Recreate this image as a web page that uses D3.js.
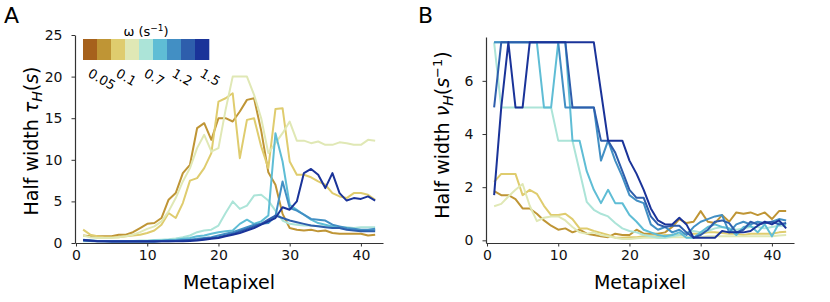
<!DOCTYPE html>
<html>
<head>
<meta charset="utf-8">
<script src="https://cdn.jsdelivr.net/npm/d3@7"></script>
<style>
  body { margin: 0; background: #fff; }
  svg { font-family: "DejaVu Sans", sans-serif; }
</style>
</head>
<body>
<svg id="chart" width="830" height="302"></svg>
<script>
// Half width vs metapixel, one line per stimulus frequency
const metapixel = [1,2,3,4,5,6,7,8,9,10,11,12,13,14,15,16,17,18,19,20,21,22,23,24,25,26,27,28,29,30,31,32,33,34,35,36,37,38,39,40,41,42];

const palette = ['#a6611c', '#bf9535', '#dfcc6e', '#e0e8b5', '#ace4d8', '#5fbdd5', '#428fc4', '#2e5eac', '#1a3399'];
const omegaLabels = ['0.05', '0.1', '0.7', '1.2', '1.5'];
const omegaLabelCells = [0, 2, 4, 6, 8];

// panel A: tau_H (s)
const tauC2 = [0.9,0.8,0.8,0.8,0.8,1.0,1.0,1.3,1.8,2.3,2.4,3.0,5.2,6.0,8.4,9.4,13.8,14.4,12.4,15.0,15.0,14.6,15.8,17.2,17.4,13.5,8.5,7.0,3.5,1.8,1.6,1.5,1.6,1.4,1.5,1.2,1.1,1.1,1.1,1.1,0.9,1.0];
const tauC3 = [1.6,1.0,0.8,0.7,0.7,0.7,0.8,0.9,1.0,1.2,1.5,2.2,3.6,3.0,4.8,7.5,7.8,9.0,10.8,17.0,17.4,18.0,10.2,14.8,15.0,11.6,9.0,16.1,16.2,9.8,8.2,8.2,7.9,7.4,7.0,6.0,5.6,5.4,6.0,6.0,5.8,5.2];
const tauC4 = [0.9,0.7,0.6,0.6,0.6,0.7,0.8,1.0,1.3,1.7,2.0,2.6,3.8,5.4,7.4,9.0,11.4,13.0,11.0,11.4,16.0,20.0,20.0,20.0,17.8,15.0,10.8,12.0,13.2,14.6,12.3,12.3,12.0,12.2,11.8,11.8,12.1,12.0,11.8,11.8,12.4,12.3];
const tauC5 = [0.2,0.2,0.2,0.2,0.2,0.2,0.2,0.25,0.3,0.3,0.35,0.4,0.45,0.55,0.7,0.9,1.3,1.5,1.6,2.1,3.6,5.0,4.1,4.5,5.7,5.8,5.1,3.9,2.7,2.3,2.2,2.1,2.1,2.0,2.0,1.9,1.9,1.9,1.8,1.9,1.9,1.9];
const tauC6 = [0.3,0.3,0.25,0.25,0.25,0.25,0.25,0.25,0.25,0.25,0.3,0.3,0.35,0.4,0.5,0.6,0.8,0.9,1.1,1.3,1.4,1.5,2.3,2.8,2.3,2.6,3.3,13.2,9.8,4.6,4.0,3.4,2.8,2.4,2.2,2.0,1.8,1.7,1.6,1.5,1.5,1.6];
const tauC7 = [0.4,0.3,0.25,0.2,0.2,0.2,0.2,0.2,0.2,0.2,0.2,0.25,0.3,0.3,0.35,0.4,0.5,0.6,0.7,0.9,1.1,1.3,1.6,1.9,2.2,2.3,2.4,3.2,7.4,4.2,3.9,3.4,2.9,2.8,2.7,2.2,2.0,1.8,1.7,1.6,1.6,1.7];
const tauC8 = [0.3,0.25,0.2,0.2,0.15,0.15,0.15,0.15,0.15,0.15,0.15,0.2,0.2,0.25,0.3,0.35,0.4,0.5,0.6,0.7,0.9,1.1,1.4,1.7,2.0,2.3,2.8,3.3,3.0,2.7,2.5,2.3,2.1,2.0,1.9,1.8,1.8,1.6,1.5,1.4,1.4,1.4];
const tauC9 = [0.35,0.3,0.2,0.2,0.2,0.2,0.2,0.2,0.2,0.2,0.2,0.2,0.2,0.2,0.2,0.25,0.3,0.4,0.5,0.6,0.8,1.0,1.2,1.5,1.8,2.2,2.6,3.0,4.3,4.0,5.0,8.4,8.9,8.2,6.6,8.4,6.0,5.1,5.4,5.3,5.6,5.1];

// panel B: nu_H (1/s)
const nuC2 = [1.85,1.7,1.7,1.55,1.2,1.2,1.0,0.75,0.55,0.4,0.45,0.3,0.4,0.25,0.2,0.15,0.12,0.25,0.2,0.2,0.4,0.25,0.25,0.25,0.3,0.5,0.8,0.65,0.7,1.1,0.7,0.65,0.95,0.7,1.05,1.0,1.05,0.95,1.05,0.8,1.1,1.1];
const nuC3 = [2.2,2.5,2.5,2.5,1.7,1.9,1.75,1.3,0.95,0.95,1.0,0.8,0.45,0.45,0.35,0.28,0.2,0.1,0.1,0.12,0.12,0.15,0.15,0.15,0.2,0.2,0.2,0.25,0.25,0.25,0.3,0.3,0.28,0.25,0.25,0.2,0.25,0.25,0.25,0.25,0.3,0.32];
const nuC4 = [1.28,1.37,1.65,1.9,2.12,1.3,0.72,0.85,0.9,0.9,0.75,0.5,0.3,0.25,0.3,0.2,0.15,0.1,0.05,0.05,0.08,0.1,0.1,0.1,0.1,0.12,0.12,0.12,0.12,0.12,0.15,0.15,0.15,0.15,0.15,0.15,0.15,0.15,0.15,0.15,0.18,0.2];
const nuC5 = [7.45,5.0,5.0,5.0,5.0,5.0,5.0,5.0,5.0,3.75,3.75,3.75,2.6,1.45,1.15,1.0,0.9,0.65,0.45,0.35,0.3,0.2,0.15,0.1,0.1,0.15,0.2,0.3,0.35,0.3,0.35,0.45,0.5,0.45,0.4,0.45,0.5,0.5,0.45,0.5,0.55,0.55];
const nuC6 = [7.45,7.45,7.45,7.45,7.45,7.45,7.45,5.0,5.0,7.45,7.45,3.75,3.75,2.6,1.9,1.4,1.9,1.4,1.4,0.95,0.7,0.4,0.3,0.2,0.15,0.2,0.3,0.1,0.1,0.3,0.5,0.6,0.5,0.45,0.2,0.5,0.55,0.3,0.6,0.15,0.65,0.6];
const nuC7 = [7.45,7.45,7.45,7.45,7.45,7.45,7.45,7.45,7.45,7.45,5.0,5.0,5.0,5.0,5.0,3.0,3.75,3.0,2.4,1.7,1.5,1.4,0.6,0.4,0.5,0.3,0.4,0.2,0.5,0.7,0.8,0.9,0.95,0.3,0.6,0.7,0.6,0.7,0.65,0.7,0.8,0.75];
const nuC8 = [5.0,7.45,7.45,7.45,7.45,7.45,7.45,7.45,7.45,7.45,7.45,5.0,5.0,5.0,5.0,3.75,3.75,3.3,2.6,1.9,1.6,1.6,0.9,0.6,0.5,0.55,0.55,0.3,0.1,0.2,0.4,0.7,0.75,0.65,0.3,0.4,0.7,0.6,0.65,0.7,0.6,0.65];
const nuC9 = [1.7,5.0,7.45,5.0,5.0,7.45,7.45,7.45,7.45,7.45,7.45,7.45,7.45,7.45,7.45,5.6,3.75,3.75,3.75,3.0,2.5,1.9,1.2,0.75,0.6,0.6,0.85,0.6,0.1,0.1,0.1,0.1,0.35,0.3,0.3,0.3,0.35,0.55,0.7,0.6,0.75,0.45];

const tauSeries = [tauC2, tauC3, tauC4, tauC5, tauC6, tauC7, tauC8, tauC9];
const nuSeries = [nuC2, nuC3, nuC4, nuC5, nuC6, nuC7, nuC8, nuC9];
const seriesColors = palette.slice(1);

const xTicks = [0, 10, 20, 30, 40];
const tauTicks = [0, 5, 10, 15, 20, 25];
const nuTicks = [0, 2, 4, 6];

const svg = d3.select('#chart');
const axisColor = '#333';

function drawPanel(opts) {
  const x = d3.scaleLinear().domain([-0.14, 43.1]).range([opts.left, opts.left + 308]);
  const y = d3.scaleLinear().domain(opts.yDomain).range([243, opts.top]);

  const g = svg.append('g');

  const line = d3.line()
    .x((d, i) => x(metapixel[i]))
    .y(d => y(d));

  g.selectAll('.series')
    .data(opts.series)
    .enter()
    .append('path')
    .attr('d', d => line(d))
    .attr('fill', 'none')
    .attr('stroke', (d, i) => seriesColors[i])
    .attr('stroke-width', 2)
    .attr('stroke-linejoin', 'round');

  const xAxis = g.append('g')
    .attr('transform', 'translate(0,243)')
    .call(d3.axisBottom(x).tickValues(xTicks).tickSize(3.5).tickSizeOuter(0).tickPadding(4));

  const yAxis = g.append('g')
    .attr('transform', `translate(${opts.left},0)`)
    .call(d3.axisLeft(y).tickValues(opts.yTicks).tickSize(3.5).tickSizeOuter(0).tickPadding(9));

  [xAxis, yAxis].forEach(a => {
    a.select('.domain').attr('stroke', axisColor).attr('stroke-width', 1.2);
    a.selectAll('.tick line').attr('stroke', axisColor).attr('stroke-width', 1);
    a.selectAll('.tick text').attr('fill', '#111').style('font-size', '14px')
      .style('font-family', '"DejaVu Sans", sans-serif');
  });

  // panel letter
  svg.append('text')
    .attr('x', opts.letterX).attr('y', 23)
    .style('font-size', '22px')
    .text(opts.letter);

  // x label
  svg.append('text')
    .attr('x', opts.left + 154).attr('y', 289)
    .attr('text-anchor', 'middle')
    .style('font-size', '19px')
    .text('Metapixel');

  // y label
  const yl = svg.append('text')
    .attr('transform', `translate(${opts.yLabelX},${opts.yLabelY}) rotate(-90)`)
    .attr('text-anchor', 'middle')
    .style('font-size', '19px');
  opts.yLabel(yl);
}

drawPanel({
  left: 75, top: 35, yDomain: [0, 25], yTicks: tauTicks, series: tauSeries,
  letter: 'A', letterX: 4, yLabelX: 38, yLabelY: 141,
  yLabel: t => {
    t.append('tspan').text('Half width ');
    t.append('tspan').style('font-style', 'italic').text('τ');
    t.append('tspan').style('font-style', 'italic').style('font-size', '14px').attr('dy', 4).text('H');
    t.append('tspan').attr('dy', -4).text('(');
    t.append('tspan').style('font-style', 'italic').text('s');
    t.append('tspan').text(')');
  }
});

drawPanel({
  left: 486, top: 37, yDomain: [-0.1, 7.65], yTicks: nuTicks, series: nuSeries,
  letter: 'B', letterX: 418, yLabelX: 449, yLabelY: 135,
  yLabel: t => {
    t.append('tspan').text('Half width ');
    t.append('tspan').style('font-style', 'italic').text('ν');
    t.append('tspan').style('font-style', 'italic').style('font-size', '14px').attr('dy', 4).text('H');
    t.append('tspan').attr('dy', -4).text('(');
    t.append('tspan').style('font-style', 'italic').text('s');
    t.append('tspan').style('font-size', '13px').attr('dy', -7).text('−1');
    t.append('tspan').attr('dy', 7).text(')');
  }
});

// colour key for omega
const cb = svg.append('g');
const cellW = 14;
cb.selectAll('rect')
  .data(palette)
  .enter()
  .append('rect')
  .attr('x', (d, i) => 83 + i * cellW)
  .attr('y', 39)
  .attr('width', cellW + 0.3)
  .attr('height', 21)
  .attr('fill', d => d);

const cbTitle = cb.append('text')
  .attr('x', 146).attr('y', 36)
  .attr('text-anchor', 'middle')
  .style('font-size', '13px');
cbTitle.append('tspan').text('ω (s');
cbTitle.append('tspan').style('font-size', '9px').attr('dy', -5).text('−1');
cbTitle.append('tspan').attr('dy', 5).text(')');

cb.selectAll('.cblabel')
  .data(omegaLabels)
  .enter()
  .append('text')
  .attr('transform', (d, i) => `translate(${83 + omegaLabelCells[i] * cellW + 4},76) rotate(30)`)
  .style('font-size', '13px')
  .text(d => d);
</script>
</body>
</html>
